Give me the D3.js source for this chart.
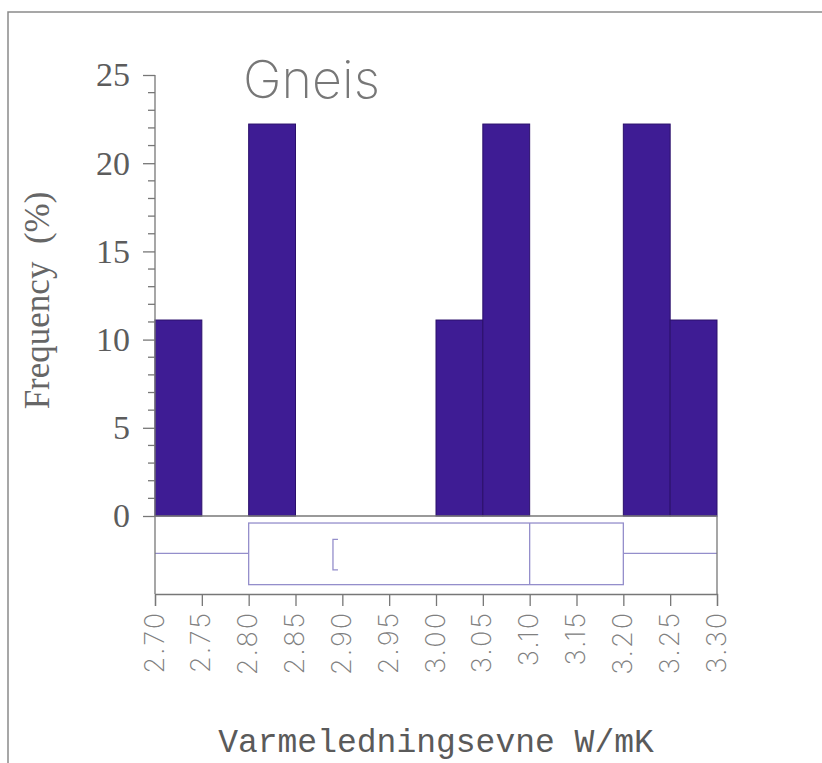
<!DOCTYPE html>
<html>
<head>
<meta charset="utf-8">
<script src="https://cdn.jsdelivr.net/npm/d3@7"></script>
<style>
  body { margin: 0; background: #fff; }
</style>
</head>
<body>
<div id="chart"></div>
<script>
// histogram bins (lower edge, upper edge) and frequency in %
var binStart = [2.70, 2.80, 3.00, 3.05, 3.20, 3.25];
var binEnd   = [2.75, 2.85, 3.05, 3.10, 3.25, 3.30];
var freq     = [11.11, 22.22, 11.11, 22.22, 22.22, 11.11];

// box plot summary
var boxStats = {min: 2.70, q1: 2.80, median: 3.10, q3: 3.20, max: 3.30};
var bracketAt = 2.89;

var xTicks = [2.70, 2.75, 2.80, 2.85, 2.90, 2.95, 3.00, 3.05, 3.10, 3.15, 3.20, 3.25, 3.30];
var yTicks = [0, 5, 10, 15, 20, 25];

var W = 822, H = 763;
var pLeft = 155, pRight = 717, pTop = 75, pBase = 516, axisY = 594;

var svg = d3.select("#chart")
  .append("svg")
    .attr("width", W)
    .attr("height", H);

var x = d3.scaleLinear().domain([2.70, 3.30]).range([pLeft, pRight]);
var y = d3.scaleLinear().domain([0, 25]).range([pBase, pTop]);
// vertical band for the box plot under the histogram
var by = d3.scaleLinear().domain([0, 1]).range([pBase, axisY]);

// page frame (top and left only)
svg.append("path")
  .attr("d", "M8," + H + "V12H" + W)
  .attr("fill", "none")
  .attr("stroke", "#8a8a8a")
  .attr("stroke-width", 1.5);

// bars
svg.append("g")
  .selectAll("rect")
  .data(freq)
  .enter()
  .append("rect")
    .attr("x", function(d, i) { return x(binStart[i]); })
    .attr("width", function(d, i) { return x(binEnd[i]) - x(binStart[i]); })
    .attr("y", function(d) { return y(d); })
    .attr("height", function(d) { return y(0) - y(d); })
    .attr("fill", "#3e1c94")
    .attr("stroke", "#2a0f6b")
    .attr("stroke-width", 1);

// box plot
var bp = svg.append("g")
  .attr("fill", "none")
  .attr("stroke", "#948ecb")
  .attr("stroke-width", 1.3);

bp.append("rect")
  .attr("x", x(boxStats.q1))
  .attr("y", by(0.09))
  .attr("width", x(boxStats.q3) - x(boxStats.q1))
  .attr("height", by(0.88) - by(0.09));

bp.append("line")
  .attr("x1", x(boxStats.median)).attr("x2", x(boxStats.median))
  .attr("y1", by(0.09)).attr("y2", by(0.88));

bp.append("line")
  .attr("x1", x(boxStats.min)).attr("x2", x(boxStats.q1))
  .attr("y1", by(0.48)).attr("y2", by(0.48));

bp.append("line")
  .attr("x1", x(boxStats.q3)).attr("x2", x(boxStats.max))
  .attr("y1", by(0.48)).attr("y2", by(0.48));

bp.append("path")
  .attr("d", "M" + (x(bracketAt) + 5) + "," + by(0.30) +
             "H" + x(bracketAt) + "V" + by(0.69) + "H" + (x(bracketAt) + 5));

// frame lines around the strip
var ax = svg.append("g")
  .attr("stroke", "#777")
  .attr("stroke-width", 1.3)
  .attr("fill", "none");

ax.append("line").attr("x1", pLeft).attr("x2", pRight).attr("y1", pBase).attr("y2", pBase);
ax.append("line").attr("x1", pRight).attr("x2", pRight).attr("y1", pBase).attr("y2", axisY);

// y axis
var yAxis = d3.axisLeft(y)
  .tickValues(yTicks)
  .tickSize(12)
  .tickPadding(13)
  .tickFormat(d3.format("d"));

var gy = svg.append("g")
  .attr("transform", "translate(" + pLeft + ",0)")
  .call(yAxis);
gy.select(".domain").remove();
gy.selectAll(".tick line").attr("stroke", "#777").attr("stroke-width", 1.3);
gy.selectAll(".tick text")
  .attr("fill", "#5c5c5c")
  .style("font-family", "'Liberation Serif', serif")
  .style("font-size", "34px");

// minor y ticks
svg.append("g")
  .selectAll("line")
  .data(d3.range(0, 26).filter(function(d) { return d % 5 != 0; }))
  .enter()
  .append("line")
    .attr("x1", pLeft - 7).attr("x2", pLeft)
    .attr("y1", function(d) { return y(d); })
    .attr("y2", function(d) { return y(d); })
    .attr("stroke", "#777")
    .attr("stroke-width", 1.3);

svg.append("line")
  .attr("x1", pLeft).attr("x2", pLeft)
  .attr("y1", y(25)).attr("y2", axisY)
  .attr("stroke", "#777")
  .attr("stroke-width", 1.3);

// x axis
var xAxis = d3.axisBottom(x)
  .tickValues(xTicks)
  .tickSize(12)
  .tickFormat(d3.format(".2f"));

var gx = svg.append("g")
  .attr("transform", "translate(0," + axisY + ")")
  .call(xAxis);
gx.select(".domain").attr("stroke", "#777").attr("stroke-width", 1.3);
gx.selectAll(".tick line").attr("stroke", "#777").attr("stroke-width", 1.3);
gx.selectAll(".tick text")
  .attr("fill", "#808080")
  .attr("transform", "rotate(-90)")
  .attr("text-anchor", "end")
  .attr("x", -17)
  .attr("y", 0)
  .attr("dy", "0.3em")
  .style("font-family", "Inter, 'DejaVu Sans', sans-serif")
  .style("font-weight", "200")
  .style("letter-spacing", "2px")
  .style("font-size", "27px");

// title
svg.append("text")
  .attr("x", 243)
  .attr("y", 98)
  .attr("fill", "#777")
  .style("font-family", "Inter, sans-serif")
  .style("font-weight", "200")
  .style("font-size", "52px")
  .text("Gneis");

// axis titles
svg.append("text")
  .attr("transform", "translate(49," + ((pTop + pBase) / 2 + 5) + ") rotate(-90)")
  .attr("text-anchor", "middle")
  .attr("fill", "#666")
  .style("font-family", "'Liberation Serif', serif")
  .style("font-size", "35px")
  .style("white-space", "pre")
  .text("Frequency  (%)");

svg.append("text")
  .attr("x", (pLeft + pRight) / 2)
  .attr("y", 752)
  .attr("text-anchor", "middle")
  .attr("fill", "#5a5a5a")
  .style("font-family", "'Liberation Mono', monospace")
  .style("font-size", "33px")
  .text("Varmeledningsevne W/mK");
</script>
</body>
</html>
